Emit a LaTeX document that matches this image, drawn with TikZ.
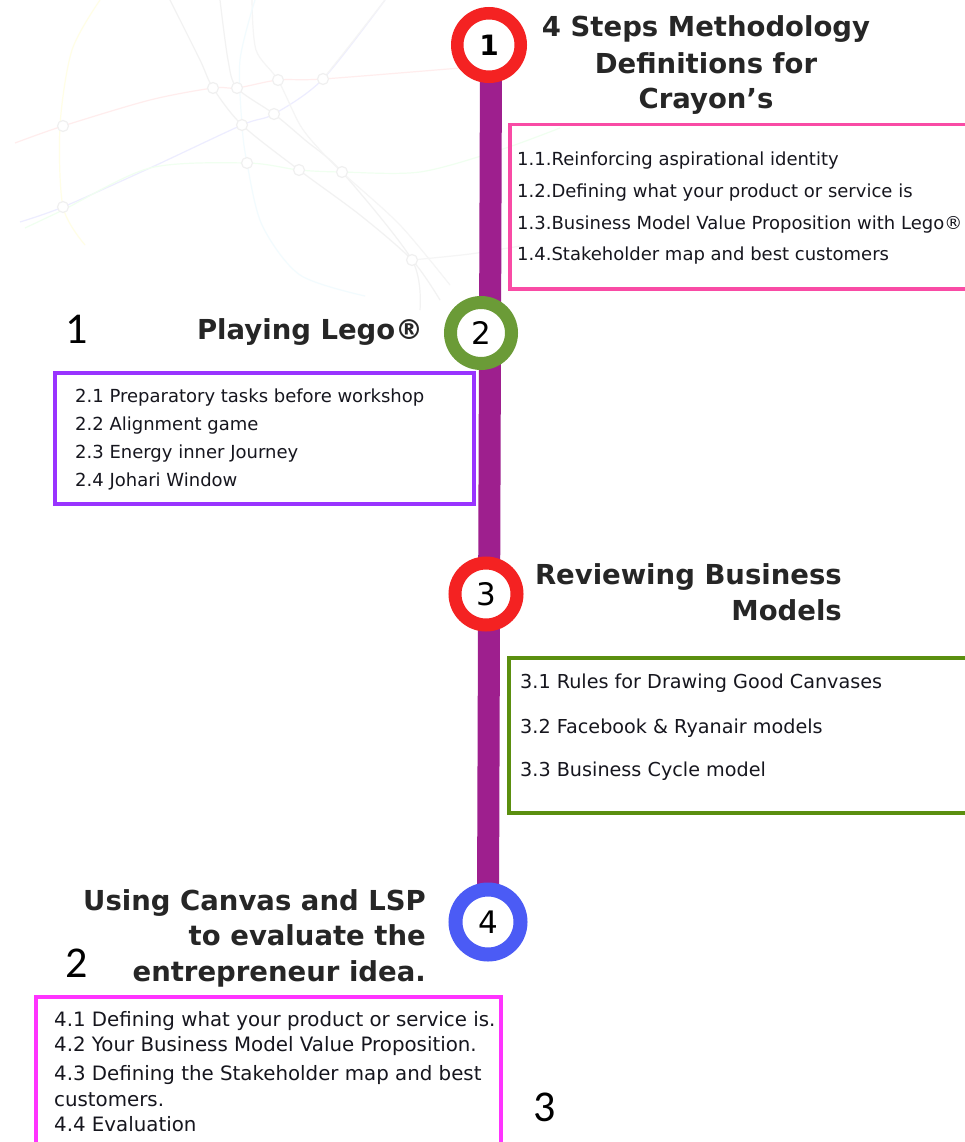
\documentclass[tikz,border=0pt]{standalone}
\usepackage{fontspec}
\setmainfont{DejaVu Sans}
\newfontfamily\carlito{Carlito}
\definecolor{barpurple}{HTML}{9E1F8E}
\definecolor{ringred}{HTML}{F42222}
\definecolor{ringgreen}{HTML}{6B9B37}
\definecolor{ringblue}{HTML}{4B5BF5}
\definecolor{boxpink}{HTML}{F94BA5}
\definecolor{boxviolet}{HTML}{9933FF}
\definecolor{boxgreen}{HTML}{5B8F0F}
\definecolor{boxmagenta}{HTML}{FF33FF}
\definecolor{txt}{HTML}{16161E}
\definecolor{head}{HTML}{262626}
\tikzset{
  bar/.style={line width=22pt, barpurple},
  ring/.style={circle, draw=#1, line width=13pt, fill=white, inner sep=0pt, minimum size=62pt, font=\fontsize{31}{31}\selectfont, text=black},
  heading/.style={font=\bfseries\fontsize{27.5}{27.5}\selectfont, text=head, inner sep=0pt},
  item/.style={font=\fontsize{18}{18}\selectfont, text=txt, inner sep=0pt, anchor=base west},
  itemb/.style={item, font=\fontsize{19.2}{19.2}\selectfont},
  itemc/.style={item, font=\fontsize{19.8}{19.8}\selectfont},
  tagnum/.style={font=\carlito\fontsize{44}{44}\selectfont, text=black, inner sep=0pt, anchor=base},
  frame/.style={draw=#1, line width=3.5pt, inner sep=0pt},
  bgline/.style={line width=1.2pt, #1},
  station/.style={draw=gray!12, line width=1.2pt, fill=white}
}
\begin{document}
\begin{tikzpicture}[x=1pt,y=-1pt]
\useasboundingbox (0,0) rectangle (964,1142);
\fill[white] (0,0) rectangle (964,1142);
% faint background network
\draw[bgline=red!7] plot[smooth] coordinates {(15,143) (63,126) (150,100) (213,88) (237,88) (278,80) (323,79) (460,68)};
\draw[bgline=blue!7] plot[smooth] coordinates {(20,222) (63,207) (150,168) (242,125) (274,114) (323,79) (385,0)};
\draw[bgline=green!6] plot[smooth] coordinates {(25,228) (63,210) (150,168) (247,163) (299,170) (342,172) (420,172) (500,150) (560,128)};
\draw[bgline=gray!10] plot[smooth] coordinates {(170,0) (200,60) (213,88) (242,125) (299,170) (360,215) (412,260) (440,300)};
\draw[bgline=gray!10] plot[smooth] coordinates {(220,0) (228,60) (237,88) (274,114) (305,140) (342,172) (412,260) (420,310)};
\draw[bgline=gray!8] plot[smooth] coordinates {(252,0) (256,50) (278,80) (300,125) (320,150) (345,175) (400,225) (450,285)};
\draw[bgline=cyan!5] plot[smooth] coordinates {(255,0) (240,60) (242,125) (247,163) (262,225) (300,275) (365,296)};
\draw[bgline=yellow!10] plot[smooth] coordinates {(100,0) (72,50) (60,126) (63,207) (85,245)};
\draw[bgline=gray!8] plot[smooth] coordinates {(412,260) (470,254) (520,246)};
\draw[bgline=gray!8] plot[smooth] coordinates {(385,0) (350,45) (323,79)};
\foreach \p in {(63,126),(213,88),(237,88),(278,80),(323,79),(274,114),(242,125),(247,163),(299,170),(342,172),(63,207),(412,260)}
  \draw[station] \p circle (5.5);
% timeline
\coordinate (p1) at (489,45);
\coordinate (p2) at (481,333);
\coordinate (p3) at (486,594);
\coordinate (p4) at (488,922);
\draw[bar] (491,60) coordinate (bt) -- (488,905) coordinate (bb);
\node[ring=ringred, font=\bfseries\fontsize{28}{28}\selectfont, minimum size=63.5pt, line width=12.5pt] (c1) at (p1) {1};
\node[ring=ringgreen, minimum size=61pt] (c2) at (p2) {2};
\node[ring=ringred] (c3) at (p3) {3};
\node[ring=ringblue, minimum size=65pt, line width=14pt] (c4) at (p4) {4};
% step 1
\node[heading, anchor=base] (h1a) at (706,37) {4 Steps Methodology};
\node[heading, anchor=base] (h1b) at (706,74) {Definitions for};
\node[heading, anchor=base] (h1c) at (706,109) {Crayon’s};
\node[frame=boxpink, minimum width=500pt, minimum height=164pt, anchor=north west] (b1) at (508,123) {};
\node[item] (i11) at (517,166) {1.1.Reinforcing aspirational identity};
\node[item] (i12) at (517,197) {1.2.Defining what your product or service is};
\node[item] (i13) at (517,229) {1.3.Business Model Value Proposition with Lego®};
\node[item] (i14) at (517,260) {1.4.Stakeholder map and best customers};
% step 2
\node[tagnum] (t1) at (77,343) {1};
\node[heading, anchor=base east] (h2) at (423,339) {Playing Lego®};
\node[frame=boxviolet, line width=4pt, minimum width=419pt, minimum height=131pt, anchor=north west] (b2) at (53,371) {};
\node[item] (i21) at (75,402) {2.1 Preparatory tasks before workshop};
\node[item] (i22) at (75,430) {2.2 Alignment game};
\node[item] (i23) at (75,458) {2.3 Energy inner Journey};
\node[item] (i24) at (75,486) {2.4 Johari Window};
% step 3
\node[heading, anchor=base east] (h3a) at (842,584) {Reviewing Business};
\node[heading, anchor=base east] (h3b) at (842,620) {Models};
\node[frame=boxgreen, minimum width=500pt, minimum height=155pt, anchor=north west] (b3) at (507,656) {};
\node[itemb] (i31) at (520,688) {3.1 Rules for Drawing Good Canvases};
\node[itemb] (i32) at (520,733) {3.2 Facebook \& Ryanair models};
\node[itemb] (i33) at (520,776) {3.3 Business Cycle model};
% step 4
\node[heading, anchor=base east] (h4a) at (426,910) {Using Canvas and LSP};
\node[heading, anchor=base east] (h4b) at (426,945) {to evaluate the};
\node[heading, anchor=base east] (h4c) at (426,981) {entrepreneur idea.};
\node[tagnum] (t2) at (77,977) {2};
\node[frame=boxmagenta, line width=4pt, minimum width=465pt, minimum height=170pt, anchor=north west] (b4) at (34,995) {};
\node[itemc] (i41) at (54,1026) {4.1 Defining what your product or service is.};
\node[itemc] (i42) at (54,1051) {4.2 Your Business Model Value Proposition.};
\node[itemc] (i43) at (54,1080) {4.3 Defining the Stakeholder map and best};
\node[itemc] (i43b) at (54,1106) {customers.};
\node[itemc] (i44) at (54,1131) {4.4 Evaluation};
\node[tagnum] (t3) at (545,1121) {3};
\end{tikzpicture}
\end{document}
